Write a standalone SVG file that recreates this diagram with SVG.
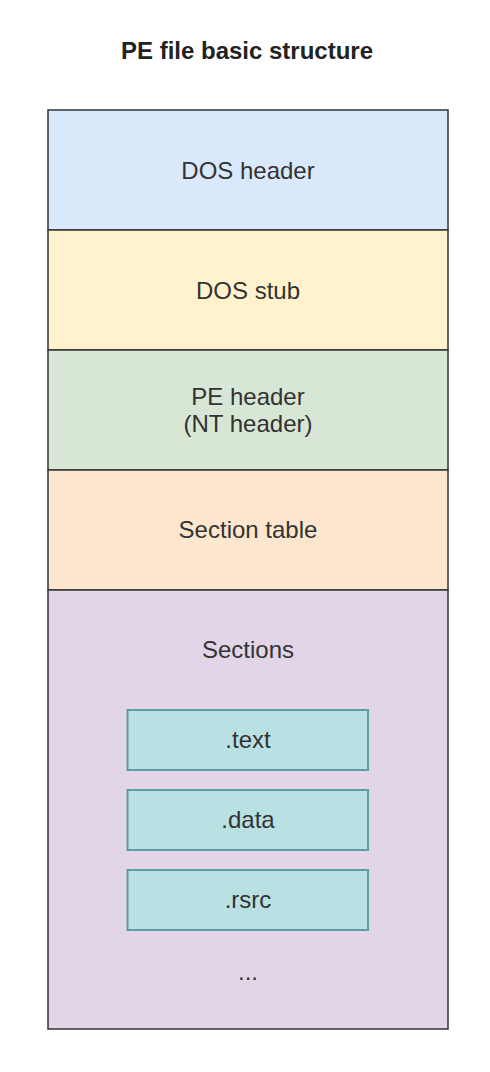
<svg xmlns="http://www.w3.org/2000/svg" width="490" height="1072" viewBox="0 0 490 1072">
<style>
.band{stroke:#333333;stroke-width:1.5}
.sec{fill:#b9e1e3;stroke:#5f9ea1;stroke-width:2}
text{font-family:"Liberation Sans",Arial,sans-serif;font-size:24px;fill:#333333;text-anchor:middle}
.title{font-weight:bold;fill:#222222}
</style>
<rect width="490" height="1072" fill="#ffffff"/>
<g id="title"><text class="title" x="247" y="59">PE file basic structure</text></g>
<g id="dos-header"><rect class="band" x="48" y="110" width="400" height="120" fill="#dae8fc"/><text x="248" y="179">DOS header</text></g>
<g id="dos-stub"><rect class="band" x="48" y="230" width="400" height="120" fill="#fff2cc"/><text x="248" y="299">DOS stub</text></g>
<g id="pe-header"><rect class="band" x="48" y="350" width="400" height="120" fill="#d8e7d5"/><text x="248" y="405">PE header</text><text x="248" y="432">(NT header)</text></g>
<g id="section-table"><rect class="band" x="48" y="470" width="400" height="120" fill="#fce6cd"/><text x="248" y="538">Section table</text></g>
<g id="sections"><rect class="band" x="48" y="590" width="400" height="439" fill="#e1d5e7"/><text x="248" y="658">Sections</text><text x="248" y="980">...</text></g>
<g id="text-sec"><rect class="sec" x="127.5" y="710" width="240.5" height="60"/><text x="248" y="748">.text</text></g>
<g id="data-sec"><rect class="sec" x="127.5" y="790" width="240.5" height="60"/><text x="248" y="828">.data</text></g>
<g id="rsrc-sec"><rect class="sec" x="127.5" y="870" width="240.5" height="60"/><text x="248" y="908">.rsrc</text></g>
<g id="connectors"></g>
</svg>
